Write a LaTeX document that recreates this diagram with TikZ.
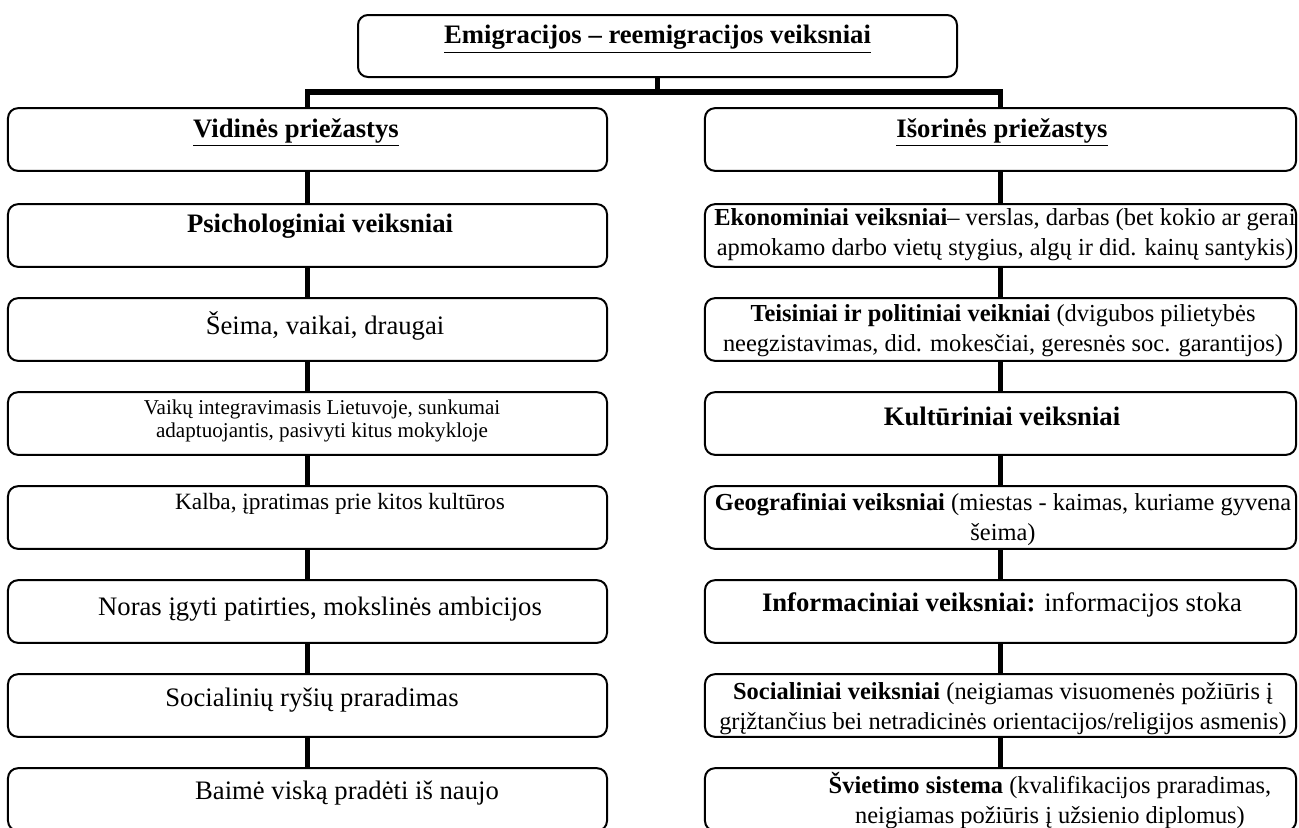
\documentclass[tikz,border=0pt]{standalone}
\usepackage{fontspec}
\setmainfont{Liberation Serif}
\begin{document}
\begin{tikzpicture}[x=0.45pt,y=-0.45pt,
  box/.style={draw, line width=0.9pt, rounded corners=4.5pt, minimum height=28.2pt, inner sep=0pt},
  lbox/.style={box, minimum width=269.55pt},
  rbox/.style={box, minimum width=266pt},
  conn/.style={draw, line width=2.3pt},
  txt/.style={inner sep=0pt, anchor=base, align=center},
  fa/.style={font=\fontsize{12}{13.5}\selectfont},
  fb/.style={font=\fontsize{11}{13.5}\selectfont},
  fc/.style={font=\fontsize{9.5}{10}\selectfont},
  fd/.style={font=\fontsize{10.5}{12}\selectfont}]
\fill[white] (0,0) rectangle (1299,827);
\useasboundingbox (0,0) rectangle (1299,827);
\clip (0,0) rectangle (1299,827);
% top box
\node[lbox, minimum height=27.9pt] (top) at (657.5,46) {};
\node[txt, fa] (ttop) at (657.5,43) {\textbf{\underline{Emigracijos – reemigracijos veiksniai}}};
% left column boxes
\node[lbox] (L1) at (307.5,139.5) {};
\node[lbox] (L2) at (307.5,235.5) {};
\node[lbox] (L3) at (307.5,329.5) {};
\node[lbox] (L4) at (307.5,423.5) {};
\node[lbox] (L5) at (307.5,517.5) {};
\node[lbox] (L6) at (307.5,611.5) {};
\node[lbox] (L7) at (307.5,705.5) {};
\node[lbox] (L8) at (307.5,799.5) {};
% right column boxes
\node[rbox] (R1) at (1000.5,139.5) {};
\node[rbox] (R2) at (1000.5,235.5) {};
\node[rbox] (R3) at (1000.5,329.5) {};
\node[rbox] (R4) at (1000.5,423.5) {};
\node[rbox] (R5) at (1000.5,517.5) {};
\node[rbox] (R6) at (1000.5,611.5) {};
\node[rbox] (R7) at (1000.5,705.5) {};
\node[rbox] (R8) at (1000.5,799.5) {};
% connectors
\coordinate (bar) at (657.5,92);
\draw[conn] (top.south) -- (bar);
\draw[conn] (bar) -| (L1.north);
\draw[conn] (bar) -| (R1.north);
\foreach \a/\b in {1/2,2/3,3/4,4/5,5/6,6/7,7/8}{
  \draw[conn] (L\a.south) -- (L\b.north);
  \draw[conn] (R\a.south) -- (R\b.north);
}
% left texts
\node[txt, fa] (tL1) at (296,137) {\textbf{\underline{Vidinės priežastys}}};
\node[txt, fa] (tL2) at (320,232) {\textbf{Psichologiniai veiksniai}};
\node[txt, fa] (tL3) at (325,334) {Šeima, vaikai, draugai};
\node[txt, fc] (tL4) at (322,437) {Vaikų integravimasis Lietuvoje, sunkumai\\adaptuojantis, pasivyti kitus mokykloje};
\node[txt, fd] (tL5) at (340,509) {Kalba, įpratimas prie kitos kultūros};
\node[txt, fa] (tL6) at (320,615) {Noras įgyti patirties, mokslinės ambicijos};
\node[txt, fa] (tL7) at (312,706) {Socialinių ryšių praradimas};
\node[txt, fa] (tL8) at (347,799) {Baimė viską pradėti iš naujo};
% right texts
\node[txt, fa] (tR1) at (1002,137) {\textbf{\underline{Išorinės priežastys}}};
\node[txt, fb] (tR2) at (1005,255) {\textbf{Ekonominiai veiksniai}– verslas, darbas (bet kokio ar gerai\\apmokamo darbo vietų stygius, algų ir did. kainų santykis)};
\node[txt, fb] (tR3) at (1003,351) {\textbf{Teisiniai ir politiniai veikniai} (dvigubos pilietybės\\neegzistavimas, did. mokesčiai, geresnės soc. garantijos)};
\node[txt, fa] (tR4) at (1002,425) {\textbf{Kultūriniai veiksniai}};
\node[txt, fb] (tR5) at (1003,540) {\textbf{Geografiniai veiksniai} (miestas - kaimas, kuriame gyvena\\šeima)};
\node[txt, fa] (tR6) at (1002,611) {\textbf{Informaciniai veiksniai:} informacijos stoka};
\node[txt, fb] (tR7) at (1003,729) {\textbf{Socialiniai veiksniai} (neigiamas visuomenės požiūris į\\grįžtančius bei netradicinės orientacijos/religijos asmenis)};
\node[txt, fb] (tR8) at (1050,823) {\textbf{Švietimo sistema} (kvalifikacijos praradimas,\\neigiamas požiūris į užsienio diplomus)};
\end{tikzpicture}
\end{document}
